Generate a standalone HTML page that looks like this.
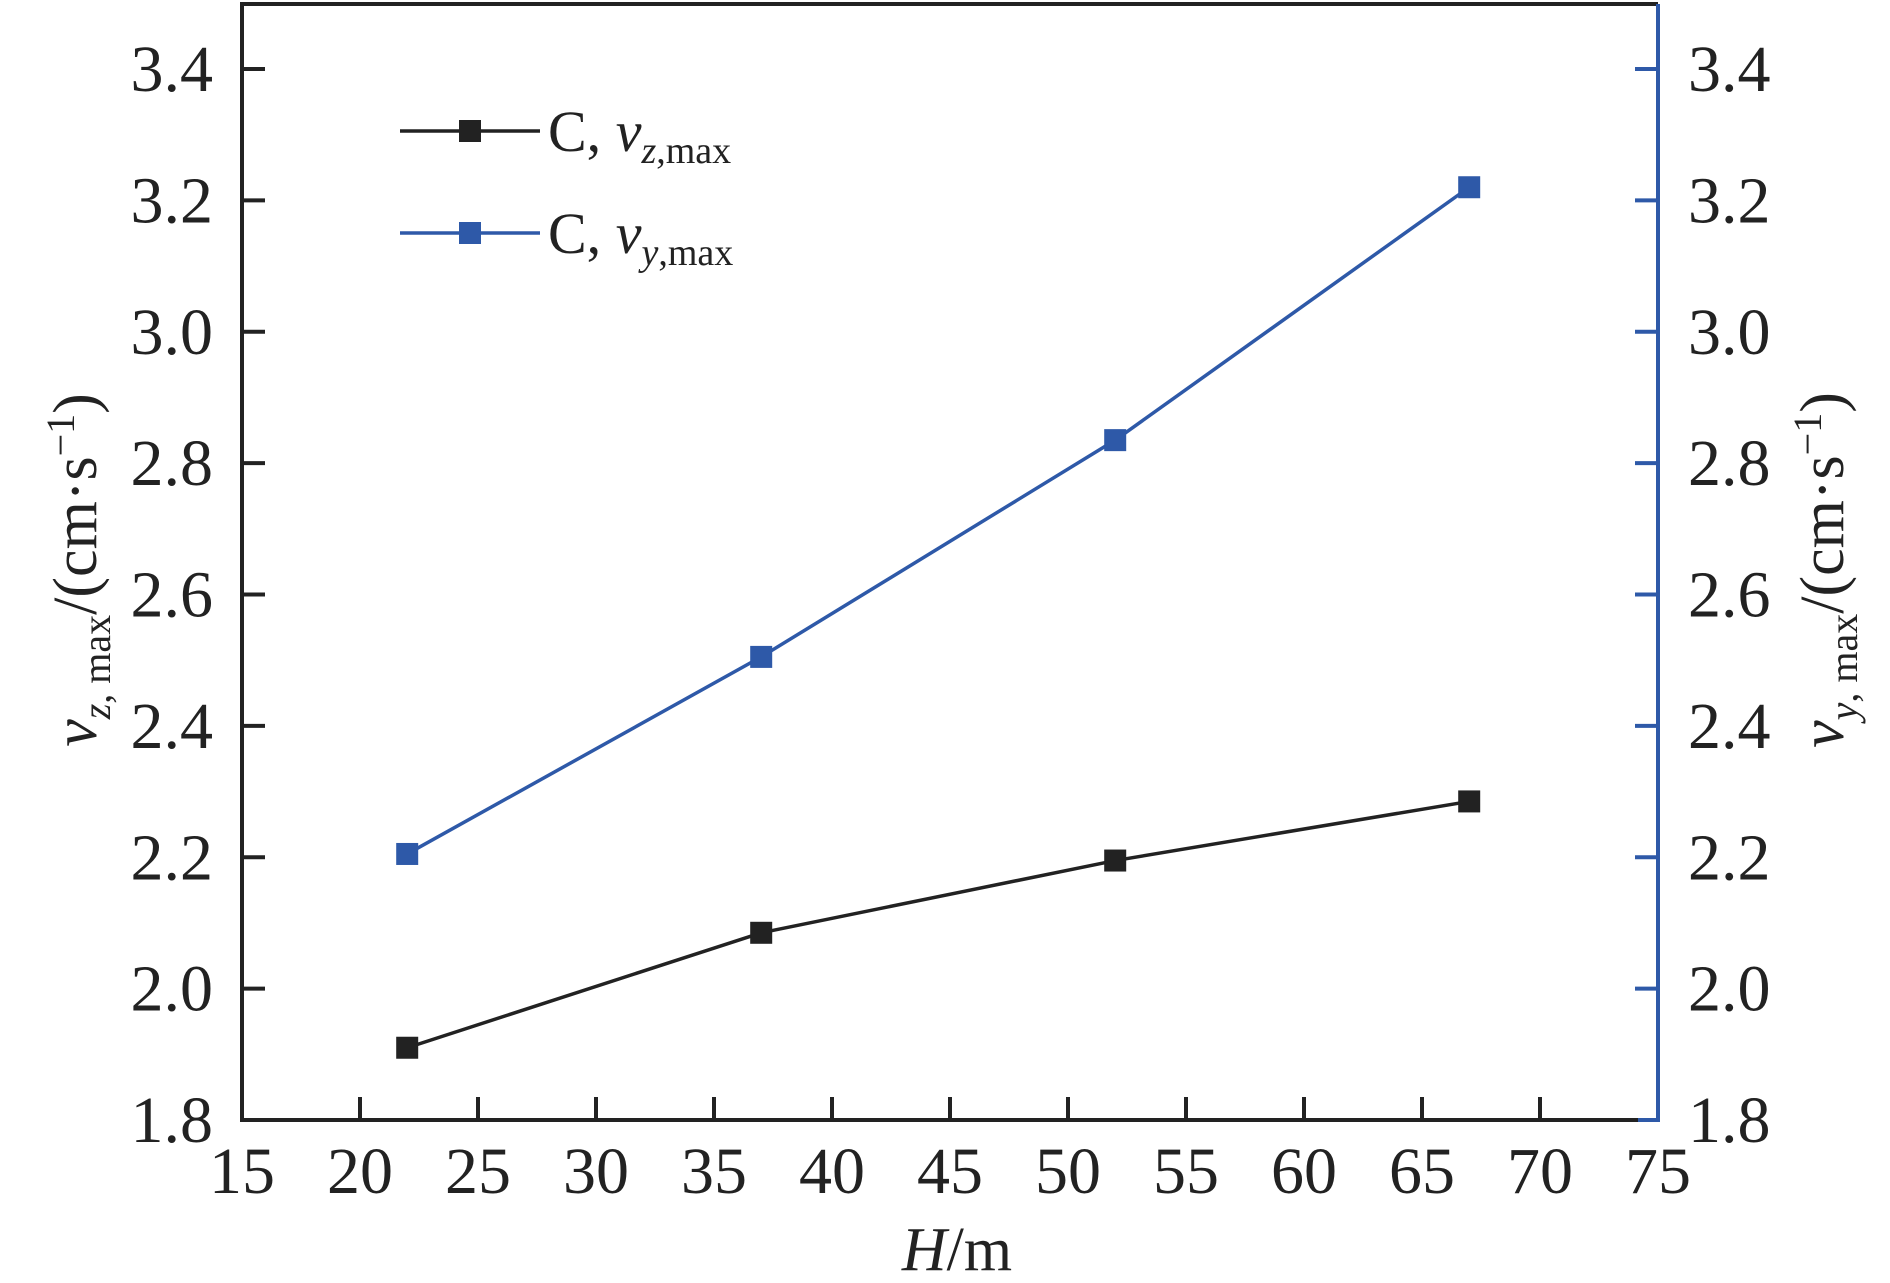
<!DOCTYPE html>
<html><head><meta charset="utf-8"><style>
html,body{margin:0;padding:0;background:#fff}
svg{display:block}
text{font-family:"Liberation Serif",serif;fill:#222}
</style></head><body>
<svg width="1890" height="1283" viewBox="0 0 1890 1283">
<g id="g"></g>
</svg>
<script>
const xTicks=[15,20,25,30,35,40,45,50,55,60,65,70,75];
const yTicks=[1.8,2.0,2.2,2.4,2.6,2.8,3.0,3.2,3.4];
const xCats=[22,37,52,67];
const vz=[1.91,2.085,2.195,2.285];
const vy=[2.205,2.505,2.835,3.22];
const L=242,R=1658,T=4,B=1120;
const sx=v=>L+(v-15)/60*(R-L);
const sy=v=>B-(v-1.8)/1.6*(1120-69);
const NS='http://www.w3.org/2000/svg';
const g=document.getElementById('g');
function mk(t,a,p){const e=document.createElementNS(NS,t);for(const k in a)e.setAttribute(k,a[k]);(p||g).appendChild(e);return e;}
const BK='#222',BL='#2e59a8';
let e=mk('line',{x1:L,y1:T,x2:L,y2:B,stroke:BK,'stroke-width':4});

e=mk('line',{x1:L-2,y1:T,x2:R,y2:T,stroke:BK,'stroke-width':4});

e=mk('line',{x1:L-2,y1:B,x2:R,y2:B,stroke:BK,'stroke-width':4});

e=mk('polyline',{points:`${R-20},${B} ${R},${B} ${R},${T}`,fill:'none',stroke:BL,'stroke-width':4});

xTicks.forEach(v=>{
 if(v>15&&v<75){e=mk('line',{x1:sx(v),y1:B,x2:sx(v),y2:B-23,stroke:BK,'stroke-width':4});
 }
 e=mk('text',{x:sx(v),y:1193,'text-anchor':'middle','font-size':66});e.textContent=v;
 
});
yTicks.forEach(v=>{
 if(v>1.8){e=mk('line',{x1:L,y1:sy(v),x2:L+23,y2:sy(v),stroke:BK,'stroke-width':4});
 
 e=mk('line',{x1:R,y1:sy(v),x2:R-23,y2:sy(v),stroke:BL,'stroke-width':4});
 }
 e=mk('text',{x:213,y:sy(v)+22,'text-anchor':'end','font-size':66});e.textContent=v.toFixed(1);
 
 e=mk('text',{x:1688,y:sy(v)+22,'font-size':66});e.textContent=v.toFixed(1);
 
});
function series(vals,col,name){
 e=mk('polyline',{points:xCats.map((x,i)=>sx(x)+','+sy(vals[i])).join(' '),fill:'none',stroke:col,'stroke-width':3.5});
 
 xCats.forEach((x,i)=>{e=mk('rect',{x:sx(x)-11,y:sy(vals[i])-11,width:22,height:22,fill:col});
 });
}
series(vz,BK,'vz-max');
series(vy,BL,'vy-max');
[[131,BK,'z','legend-vz'],[233,BL,'y','legend-vy']].forEach(([y,c,s,n])=>{
 const lg=mk('g',{});
 mk('line',{x1:400,y1:y,x2:540,y2:y,stroke:c,'stroke-width':3.5},lg);
 mk('rect',{x:459,y:y-11,width:22,height:22,fill:c},lg);
 const t=mk('text',{x:548,y:y+20,'font-size':58},lg);
 t.innerHTML=`C, <tspan font-style="italic">v</tspan><tspan font-size="38" dy="12"><tspan font-style="italic">${s}</tspan>,max</tspan>`;
});
e=mk('text',{x:957,y:1270,'text-anchor':'middle','font-size':62});
e.innerHTML='<tspan font-style="italic">H</tspan>/m';

e=mk('text',{transform:'translate(96,570) rotate(-90)','text-anchor':'middle','font-size':62});
e.innerHTML='<tspan font-style="italic">v</tspan><tspan font-size="40" dy="14"><tspan font-style="italic">z</tspan>, max</tspan><tspan dy="-14">/(cm·s</tspan><tspan font-size="40" dy="-22">−1</tspan><tspan dy="22">)</tspan>';

e=mk('text',{transform:'translate(1843,570) rotate(-90)','text-anchor':'middle','font-size':62});
e.innerHTML='<tspan font-style="italic">v</tspan><tspan font-size="40" dy="14"><tspan font-style="italic">y</tspan>, max</tspan><tspan dy="-14">/(cm·s</tspan><tspan font-size="40" dy="-22">−1</tspan><tspan dy="22">)</tspan>';

</script>
</body></html>
